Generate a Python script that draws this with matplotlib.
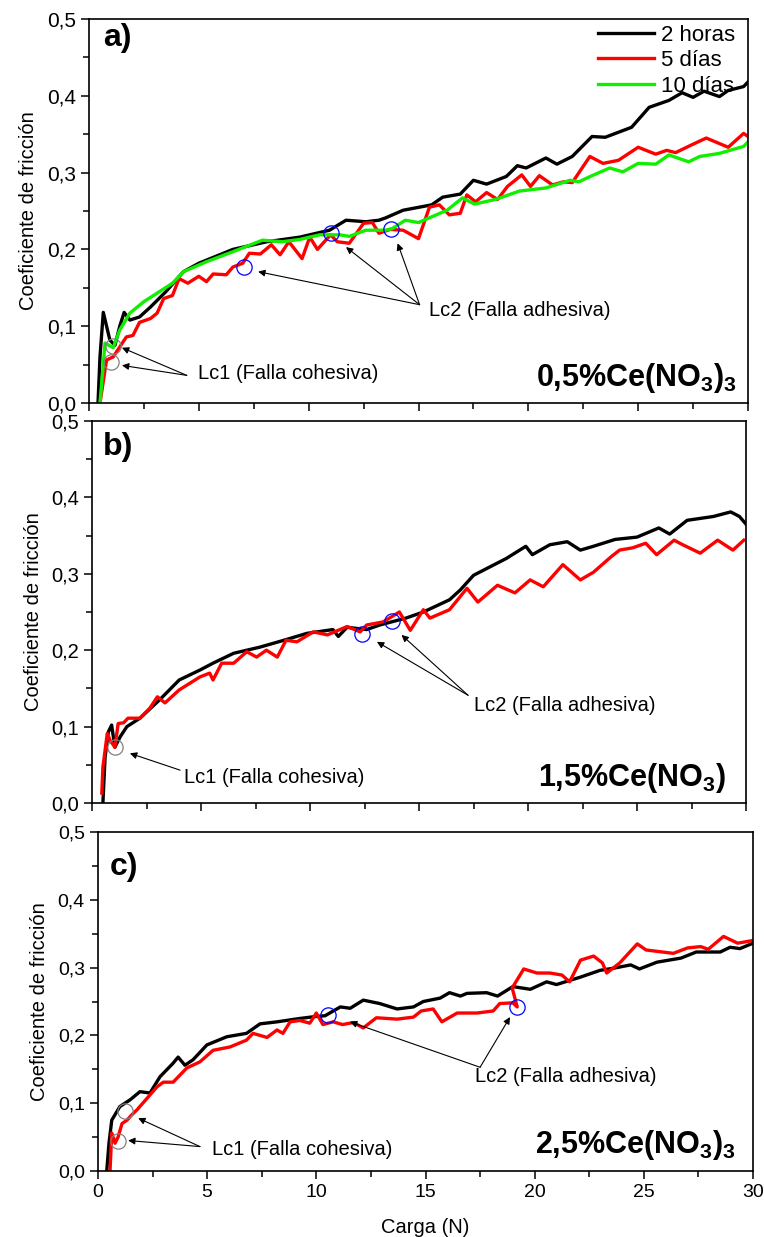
import numpy as np
import matplotlib

matplotlib.use("Agg")
import matplotlib.pyplot as plt
from matplotlib.ticker import FuncFormatter, MultipleLocator

plt.rcParams["font.family"] = ["Liberation Sans", "DejaVu Sans"]
plt.rcParams["mathtext.fontset"] = "custom"
plt.rcParams["mathtext.rm"] = "Liberation Sans"
plt.rcParams["mathtext.bf"] = "Liberation Sans:bold"

# ---- panel a) 0,5% Ce(NO3)3 ----
a_2h_x = [0.41, 0.5, 0.65, 0.8, 0.95, 1.18, 1.4, 1.6, 1.86, 2.3, 2.8, 3.5, 4.3, 5.0, 6.55,
          8.1, 9.6, 10.95, 11.7, 12.6, 13.2, 13.5, 14.3, 15.6, 16.1, 16.9, 17.5, 18.1, 19.0,
          19.5, 19.9, 20.8, 21.3, 22.0, 22.9, 23.5, 24.7, 25.5, 26.4, 27.0, 27.5, 28.0, 28.7,
          29.1, 29.8, 30.0]
a_2h_y = [0.0, 0.06, 0.118, 0.1, 0.082, 0.075, 0.1, 0.118, 0.108, 0.112, 0.125, 0.145, 0.171,
          0.182, 0.2, 0.21, 0.216, 0.225, 0.238, 0.236, 0.238, 0.241, 0.251, 0.258, 0.268,
          0.272, 0.29, 0.285, 0.295, 0.309, 0.306, 0.319, 0.311, 0.321, 0.347, 0.346, 0.359,
          0.385, 0.394, 0.404, 0.398, 0.406, 0.399, 0.407, 0.412, 0.418]
a_5d_x = [0.5, 0.8, 1.1, 1.4, 1.7, 2.0, 2.3, 2.8, 3.1, 3.4, 3.8, 4.1, 4.5, 5.0, 5.35, 5.65,
          6.25, 6.55, 7.0, 7.3, 7.8, 8.3, 8.7, 9.1, 9.7, 10.05, 10.4, 11.0, 11.3, 11.85, 12.5,
          12.9, 13.2, 13.7, 14.3, 15.0, 15.5, 15.95, 16.4, 16.9, 17.2, 17.6, 18.1, 18.6,
          19.05, 19.7, 20.1, 20.5, 21.1, 21.6, 22.0, 22.8, 23.4, 24.1, 25.0, 25.8, 26.3,
          26.7, 27.5, 28.1, 29.1, 29.8, 30.0]
a_5d_y = [0.0, 0.056, 0.06, 0.073, 0.086, 0.088, 0.105, 0.11, 0.117, 0.136, 0.14, 0.162,
          0.156, 0.165, 0.158, 0.168, 0.167, 0.177, 0.182, 0.195, 0.194, 0.206, 0.193, 0.21,
          0.188, 0.216, 0.2, 0.219, 0.21, 0.208, 0.234, 0.235, 0.221, 0.226, 0.225, 0.214,
          0.255, 0.258, 0.245, 0.247, 0.271, 0.262, 0.274, 0.265, 0.282, 0.297, 0.282, 0.296,
          0.284, 0.288, 0.287, 0.321, 0.312, 0.316, 0.333, 0.324, 0.329, 0.326, 0.337, 0.345,
          0.333, 0.351, 0.347]
a_10d_x = [0.5, 0.73, 1.1, 1.4, 1.86, 2.5, 3.1, 3.8, 4.3, 5.35, 6.55, 7.9, 8.8, 9.6, 10.5,
           11.4, 11.85, 12.6, 13.5, 13.8, 14.4, 15.0, 16.3, 17.0, 17.55, 18.5, 19.6, 20.8,
           21.9, 22.3, 22.9, 23.7, 24.3, 25.0, 25.8, 26.4, 27.3, 27.8, 28.7, 29.3, 29.8, 30.0]
a_10d_y = [0.0, 0.078, 0.072, 0.095, 0.117, 0.132, 0.143, 0.156, 0.171, 0.184, 0.197, 0.212,
           0.21, 0.213, 0.219, 0.219, 0.217, 0.225, 0.225, 0.227, 0.238, 0.235, 0.251, 0.267,
           0.259, 0.265, 0.276, 0.28, 0.29, 0.288, 0.296, 0.306, 0.301, 0.312, 0.311, 0.323,
           0.314, 0.321, 0.325, 0.33, 0.334, 0.34]
a_lc1_x = [1.09, 1.0]
a_lc1_y = [0.074, 0.053]
a_lc2_x = [7.05, 11.0, 13.77]
a_lc2_y = [0.177, 0.221, 0.227]

# ---- panel b) 1,5% Ce(NO3) ----
b_2h_x = [0.5, 0.6, 0.75, 0.9, 1.05, 1.3, 1.6, 2.2, 3.1, 4.0, 4.95, 5.55, 6.5, 7.7, 8.8,
          9.85, 11.05, 11.3, 11.7, 12.6, 13.2, 14.4, 15.2, 16.4, 16.9, 17.5, 18.25, 19.0,
          19.9, 20.2, 21.0, 21.8, 22.4, 23.0, 24.0, 25.0, 26.0, 26.5, 27.3, 28.5, 29.3, 29.7,
          30.0]
b_2h_y = [0.0, 0.06, 0.093, 0.102, 0.073, 0.087, 0.1, 0.111, 0.135, 0.161, 0.174, 0.183,
          0.196, 0.204, 0.213, 0.222, 0.227, 0.218, 0.23, 0.227, 0.233, 0.242, 0.25, 0.266,
          0.279, 0.298, 0.309, 0.32, 0.336, 0.325, 0.338, 0.342, 0.331, 0.336, 0.345, 0.348,
          0.36, 0.352, 0.37, 0.375, 0.381, 0.375, 0.365]
b_5d_x = [0.45, 0.5, 0.7, 0.83, 1.05, 1.2, 1.45, 1.65, 2.2, 2.65, 3.0, 3.35, 4.0, 4.95, 5.4,
          5.55, 5.95, 6.5, 7.1, 7.55, 8.0, 8.5, 8.9, 9.4, 10.15, 10.8, 11.7, 12.3, 12.6,
          13.35, 14.1, 14.6, 15.2, 15.5, 16.4, 17.2, 17.7, 18.6, 19.4, 20.1, 20.7, 21.6,
          22.4, 23.0, 23.8, 24.2, 24.8, 25.4, 25.9, 26.7, 27.1, 27.9, 28.7, 29.4, 29.9]
b_5d_y = [0.013, 0.047, 0.091, 0.082, 0.073, 0.104, 0.105, 0.111, 0.111, 0.124, 0.139, 0.131,
          0.148, 0.165, 0.17, 0.161, 0.183, 0.183, 0.198, 0.191, 0.2, 0.191, 0.213, 0.211,
          0.224, 0.22, 0.231, 0.224, 0.233, 0.237, 0.25, 0.226, 0.253, 0.242, 0.253, 0.281,
          0.263, 0.285, 0.275, 0.292, 0.283, 0.312, 0.292, 0.302, 0.322, 0.331, 0.334, 0.34,
          0.325, 0.344, 0.338, 0.327, 0.344, 0.331, 0.344]
b_lc1_x = [1.05]
b_lc1_y = [0.073]
b_lc2_x = [12.4, 13.75]
b_lc2_y = [0.221, 0.238]

# ---- panel c) 2,5% Ce(NO3)3 ----
c_2h_x = [0.4, 0.5, 0.63, 1.0, 1.47, 1.92, 2.38, 2.84, 3.44, 3.67, 3.98, 4.35, 4.99, 5.9,
          6.8, 7.42, 8.2, 9.25, 10.0, 10.4, 11.1, 11.55, 12.15, 12.9, 13.7, 14.45, 14.9,
          15.67, 16.1, 16.6, 16.9, 17.8, 18.3, 19.0, 19.8, 20.55, 21.0, 22.1, 23.0, 23.6,
          24.4, 24.8, 25.6, 26.7, 27.4, 28.5, 28.95, 29.4, 30.0]
c_2h_y = [0.0, 0.04, 0.075, 0.095, 0.105, 0.117, 0.115, 0.139, 0.159, 0.168, 0.156, 0.164,
          0.186, 0.198, 0.203, 0.217, 0.22, 0.225, 0.228, 0.229, 0.242, 0.24, 0.252, 0.247,
          0.239, 0.242, 0.25, 0.255, 0.263, 0.258, 0.262, 0.263, 0.258, 0.272, 0.268, 0.279,
          0.275, 0.286, 0.296, 0.299, 0.304, 0.298, 0.308, 0.314, 0.323, 0.323, 0.33, 0.328,
          0.336]
c_5d_x = [0.55, 0.63, 0.78, 0.92, 1.1, 1.33, 1.55, 1.78, 2.24, 2.7, 2.99, 3.44, 4.07, 4.67,
          5.27, 6.05, 6.8, 7.1, 7.74, 8.2, 8.47, 8.8, 9.25, 9.7, 10.0, 10.3, 10.77, 11.2,
          11.7, 12.15, 12.75, 13.7, 14.45, 14.8, 15.35, 15.75, 16.45, 17.35, 18.1, 18.4,
          19.0, 19.2, 18.97, 19.5, 20.1, 20.7, 21.25, 21.6, 22.1, 22.7, 23.1, 23.3, 23.9,
          24.7, 25.1, 26.35, 27.0, 27.6, 27.95, 28.65, 29.3, 30.0]
c_5d_y = [0.0, 0.056, 0.041, 0.05, 0.07, 0.075, 0.083, 0.09, 0.107, 0.124, 0.131, 0.131,
          0.152, 0.161, 0.178, 0.183, 0.193, 0.203, 0.197, 0.208, 0.203, 0.22, 0.222, 0.218,
          0.233, 0.216, 0.22, 0.216, 0.219, 0.211, 0.226, 0.224, 0.227, 0.236, 0.239, 0.22,
          0.233, 0.233, 0.236, 0.247, 0.248, 0.242, 0.27, 0.298, 0.292, 0.292, 0.289, 0.279,
          0.311, 0.317, 0.307, 0.292, 0.307, 0.335, 0.326, 0.321, 0.329, 0.331, 0.327, 0.346,
          0.336, 0.34]
c_lc1_x = [1.24, 0.92]
c_lc1_y = [0.088, 0.044]
c_lc2_x = [10.54, 19.19]
c_lc2_y = [0.230, 0.242]

series_labels = ["2 horas", "5 días", "10 días"]
panel_tags = ["a)", "b)", "c)"]
panel_titles = [r"0,5%Ce(NO$_\mathbf{3}$)$_\mathbf{3}$", r"1,5%Ce(NO$_\mathbf{3}$)",
                r"2,5%Ce(NO$_\mathbf{3}$)$_\mathbf{3}$"]
lc1_text = "Lc1 (Falla cohesiva)"
lc2_text = "Lc2 (Falla adhesiva)"

W, H = 764, 1237
fig = plt.figure(figsize=(W / 100, H / 100), dpi=100)


def px_axes(left, top, right, bottom):
    return fig.add_axes([left / W, 1 - bottom / H, (right - left) / W, (bottom - top) / H])


ax_a = px_axes(89, 19, 748, 403)
ax_b = px_axes(92, 421, 746, 803)
ax_c = px_axes(98, 832, 753, 1171)

comma = FuncFormatter(lambda v, _: f"{v:.1f}".replace(".", ","))


def style(ax, fs, show_x):
    ax.set_xlim(0, 30)
    ax.set_ylim(0, 0.5)
    ax.xaxis.set_major_locator(MultipleLocator(5))
    ax.xaxis.set_minor_locator(MultipleLocator(2.5))
    ax.yaxis.set_major_locator(MultipleLocator(0.1))
    ax.yaxis.set_minor_locator(MultipleLocator(0.05))
    ax.yaxis.set_major_formatter(comma)
    ax.tick_params(which="both", direction="out", top=False, right=False, width=1.1,
                   labelsize=fs)
    ax.tick_params(which="major", length=6)
    ax.tick_params(which="minor", length=4)
    if not show_x:
        ax.tick_params(axis="x", labelbottom=False)
    for s in ax.spines.values():
        s.set_linewidth(1.2)
    ax.set_ylabel("Coeficiente de fricción", fontsize=14.5, labelpad=6)


def arrows(ax, tail, tips):
    for tip in tips:
        ax.annotate("", xy=tip, xytext=tail,
                    arrowprops=dict(arrowstyle="-|>", color="black", lw=0.8,
                                    mutation_scale=10, shrinkA=0, shrinkB=0))


def circles(ax, xs, ys, color):
    ax.plot(xs, ys, "o", ms=11, mfc="none", mec=color, mew=0.9, zorder=6)


lw = 2.4
ax_a.plot(a_2h_x, a_2h_y, color="black", lw=lw, label=series_labels[0])
ax_a.plot(a_5d_x, a_5d_y, color="#ff0000", lw=lw, label=series_labels[1])
ax_a.plot(a_10d_x, a_10d_y, color="#11ee00", lw=lw, label=series_labels[2])
circles(ax_a, a_lc1_x, a_lc1_y, "gray")
circles(ax_a, a_lc2_x, a_lc2_y, "blue")
arrows(ax_a, (4.45, 0.036), [(1.5, 0.072), (1.5, 0.049)])
ax_a.text(4.95, 0.039, lc1_text, fontsize=14.5, va="center")
arrows(ax_a, (15.05, 0.128), [(7.7, 0.171), (11.7, 0.203), (14.05, 0.208)])
ax_a.text(15.5, 0.121, lc2_text, fontsize=14.5, va="center")
ax_a.legend(loc="upper right", bbox_to_anchor=(1.0, 1.02), frameon=False, fontsize=16,
            handlelength=2.5, handletextpad=0.3, labelspacing=0.2, borderaxespad=0.2)

ax_b.plot(b_2h_x, b_2h_y, color="black", lw=lw)
ax_b.plot(b_5d_x, b_5d_y, color="#ff0000", lw=lw)
circles(ax_b, b_lc1_x, b_lc1_y, "gray")
circles(ax_b, b_lc2_x, b_lc2_y, "blue")
arrows(ax_b, (4.04, 0.043), [(1.74, 0.065)])
ax_b.text(4.2, 0.033, lc1_text, fontsize=14.5, va="center")
arrows(ax_b, (17.25, 0.141), [(13.07, 0.211), (14.2, 0.22)])
ax_b.text(17.5, 0.128, lc2_text, fontsize=14.5, va="center")

ax_c.plot(c_2h_x, c_2h_y, color="black", lw=lw)
ax_c.plot(c_5d_x, c_5d_y, color="#ff0000", lw=lw)
circles(ax_c, c_lc1_x, c_lc1_y, "gray")
circles(ax_c, c_lc2_x, c_lc2_y, "blue")
arrows(ax_c, (4.67, 0.036), [(1.84, 0.078), (1.38, 0.045)])
ax_c.text(5.2, 0.032, lc1_text, fontsize=14.5, va="center")
arrows(ax_c, (17.5, 0.153), [(11.54, 0.220), (18.87, 0.227)])
ax_c.text(17.27, 0.139, lc2_text, fontsize=14.5, va="center")

for ax, fs, show_x, tag, tpos, title, ttl_pos in [
    (ax_a, 15, False, panel_tags[0], (0.64, 0.475), panel_titles[0], (29.5, 0.033)),
    (ax_b, 14.5, False, panel_tags[1], (0.5, 0.466), panel_titles[1], (29.1, 0.033)),
    (ax_c, 14, True, panel_tags[2], (0.55, 0.448), panel_titles[2], (29.2, 0.038)),
]:
    style(ax, fs, show_x)
    ax.text(*tpos, tag, fontsize=23, fontweight="bold", va="center")
    ax.text(*ttl_pos, title, fontsize=22, fontweight="bold", ha="right", va="center")

ax_c.set_xlabel("Carga (N)", fontsize=14.5, labelpad=12)

fig.savefig("out.png", dpi=100)
